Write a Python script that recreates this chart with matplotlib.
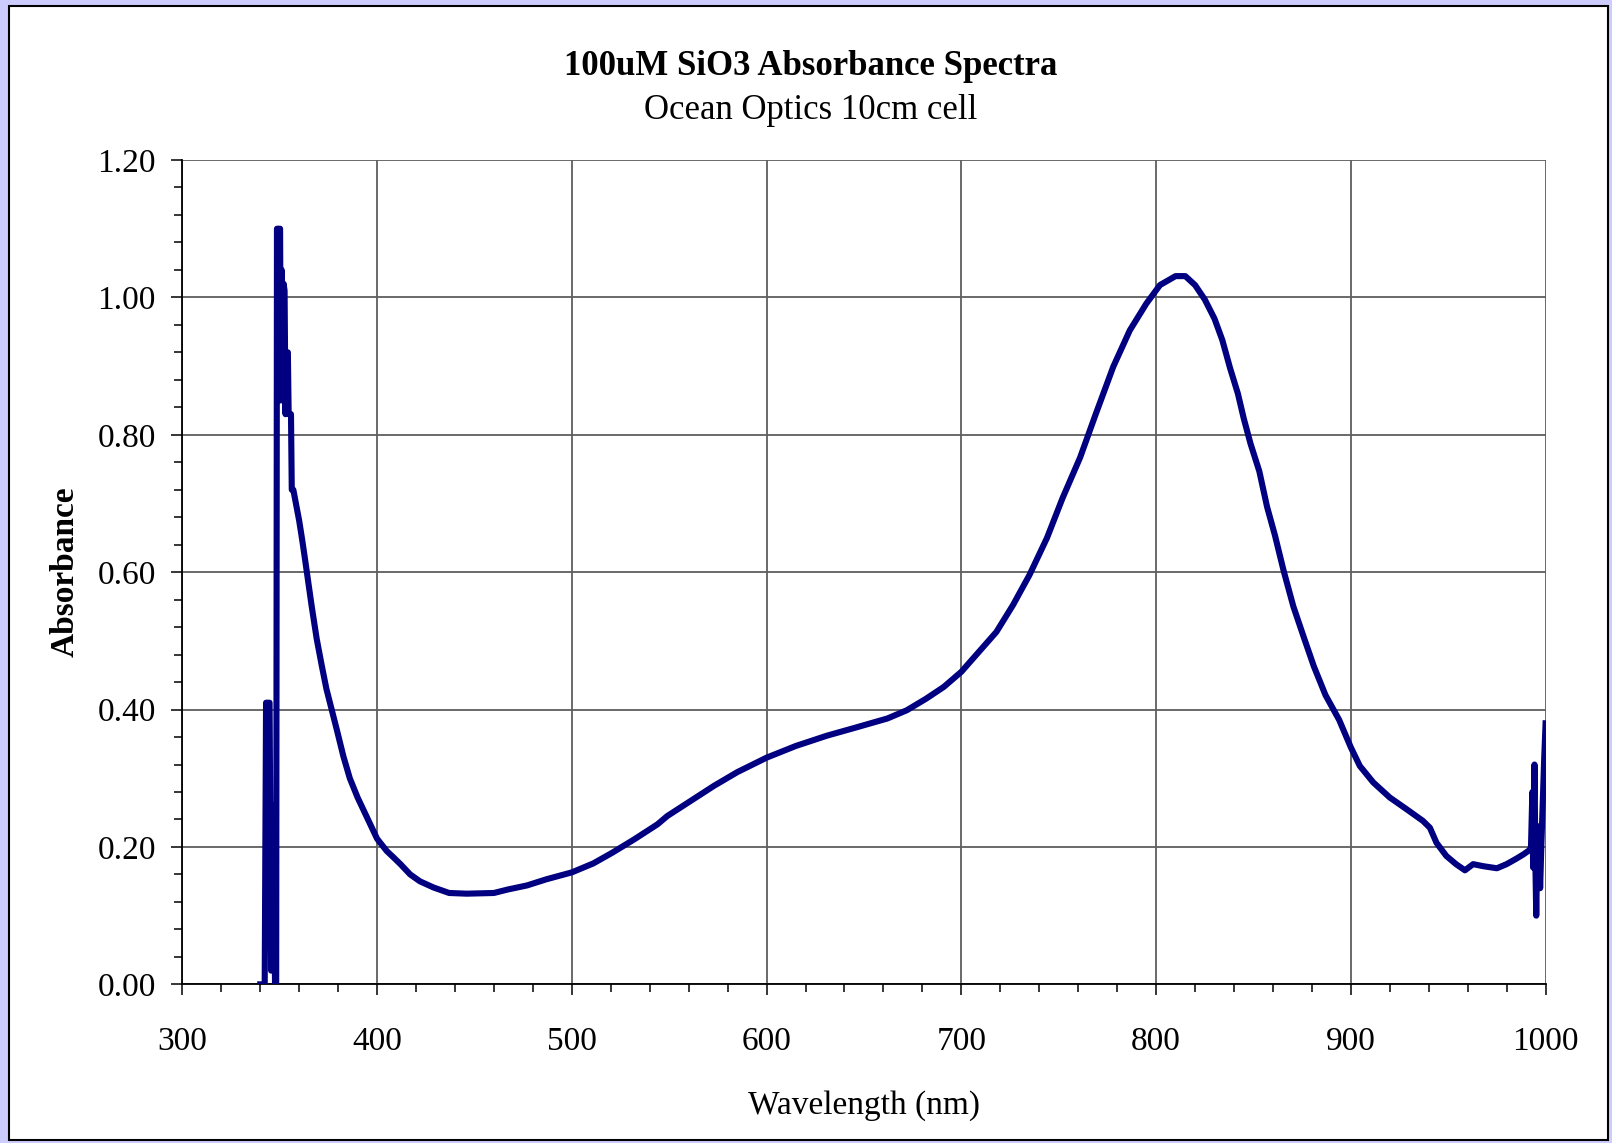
import numpy as np
import matplotlib
matplotlib.use("Agg")
import matplotlib.pyplot as plt
from matplotlib.patches import Rectangle
from matplotlib.ticker import MultipleLocator

plt.rcParams['font.family'] = ['Liberation Serif', 'DejaVu Serif']

# Espectro (nm, absorbancia)
wl_inicio = [340, 342.3, 343.0, 344.8, 345.6, 346.0, 346.8, 347.6, 348.2,
             348.6, 350.2, 350.6, 351.0, 351.5, 352.0, 352.5, 353.0, 353.5,
             354.2, 354.6, 355.8, 356.2]
abs_inicio = [0.0, 0.0, 0.41, 0.41, 0.02, 0.26, 0.26, 0.0, 0.0,
              1.10, 1.10, 0.85, 1.04, 0.86, 1.02, 1.01, 0.83, 0.92,
              0.92, 0.83, 0.83, 0.72]

wl_medio = [357, 358, 360, 361.5, 363, 364.7, 366.4, 369, 371.6, 374, 376.7,
            379.3, 382.7, 386, 390, 394, 398, 400, 405, 408, 412, 417, 422,
            429, 437, 446, 460, 467, 477, 487, 500, 511, 521, 532, 544, 549,
            561, 573, 585, 600, 615, 631, 646, 662, 672, 682, 691, 700, 709,
            718, 726.5, 735, 744, 752, 761, 769, 778, 786.5, 795, 802, 810,
            815, 820, 825, 830, 834, 838, 842, 845, 848.5, 853, 857, 861,
            865.5, 870.5, 876, 881, 887, 894, 900, 904.6, 911.5, 920, 928.6,
            937, 940.6, 944, 949, 954, 958.6, 962.8, 968, 975, 980, 985,
            988.5, 992]
abs_medio = [0.72, 0.705, 0.675, 0.648, 0.619, 0.585, 0.551, 0.503, 0.464,
             0.430, 0.400, 0.371, 0.332, 0.300, 0.272, 0.248, 0.224, 0.212,
             0.194, 0.186, 0.175, 0.160, 0.150, 0.141, 0.133, 0.132, 0.133,
             0.138, 0.144, 0.153, 0.163, 0.176, 0.192, 0.211, 0.233, 0.245,
             0.267, 0.289, 0.309, 0.330, 0.347, 0.362, 0.374, 0.387, 0.399,
             0.416, 0.433, 0.455, 0.484, 0.513, 0.552, 0.596, 0.650, 0.708,
             0.767, 0.830, 0.899, 0.952, 0.991, 1.018, 1.031, 1.031, 1.018,
             0.997, 0.969, 0.938, 0.897, 0.860, 0.824, 0.787, 0.747, 0.695,
             0.654, 0.602, 0.550, 0.504, 0.463, 0.421, 0.385, 0.345, 0.318,
             0.294, 0.272, 0.255, 0.238, 0.228, 0.206, 0.187, 0.175, 0.166,
             0.175, 0.172, 0.169, 0.175, 0.183, 0.189, 0.196]

wl_final = [992.5, 993.2, 993.6, 994.3, 994.8, 995.2, 995.8, 996.5, 997.2,
            997.8, 998.5, 999.3, 1000]
abs_final = [0.20, 0.28, 0.17, 0.32, 0.17, 0.10, 0.21, 0.23, 0.14,
             0.20, 0.26, 0.33, 0.38]

wl = np.array(wl_inicio + wl_medio + wl_final)
absorbancia = np.array(abs_inicio + abs_medio + abs_final)

fig = plt.figure(figsize=(16.12, 11.43), dpi=100)
fig.patch.set_facecolor('#CCCCFF')
marco = Rectangle((9/1612, 3/1143), 1599/1612, 1134/1143,
                  transform=fig.transFigure, facecolor='white',
                  edgecolor='black', linewidth=1.5, zorder=-5)
fig.patches.append(marco)

ax = fig.add_axes([0.1131, 0.1388, 0.8457, 0.7212])
ax.set_zorder(2)
ax.set_facecolor('white')
ax.plot(wl, absorbancia, color='#000080', linewidth=4.4, zorder=3)

ax.set_xlim(300, 1000)
ax.set_ylim(0, 1.2)
ax.xaxis.set_major_locator(MultipleLocator(100))
ax.xaxis.set_minor_locator(MultipleLocator(20))
ax.yaxis.set_major_locator(MultipleLocator(0.2))
ax.yaxis.set_minor_locator(MultipleLocator(0.04))
ax.yaxis.set_major_formatter(matplotlib.ticker.FormatStrFormatter('%.2f'))

ax.grid(True, which='major', color='#5e5e5e', linewidth=1.3)
for s in ['top', 'right']:
    ax.spines[s].set_visible(False)
for s in ['left', 'bottom']:
    ax.spines[s].set_linewidth(1.3)

ax.tick_params(which='major', direction='out', length=8, width=1.1,
               labelsize=24, pad=11)
ax.tick_params(which='minor', direction='out', length=6, width=1.1)
ax.tick_params(axis='x', which='major', pad=22)

ax.set_xlabel('Wavelength (nm)', fontsize=24, va='center')
ax.xaxis.set_label_coords(0.5, -0.147)
ax.set_ylabel('Absorbance', fontsize=24, fontweight='bold', va='center')
ax.yaxis.set_label_coords(-0.086, 0.5)

fig.text(0.503, 0.942, '100uM SiO3 Absorbance Spectra', fontsize=25,
         fontweight='bold', ha='center', va='center')
fig.text(0.503, 0.903, 'Ocean Optics 10cm cell', fontsize=25,
         ha='center', va='center')

fig.savefig('out.png', dpi=100, facecolor=fig.get_facecolor())
